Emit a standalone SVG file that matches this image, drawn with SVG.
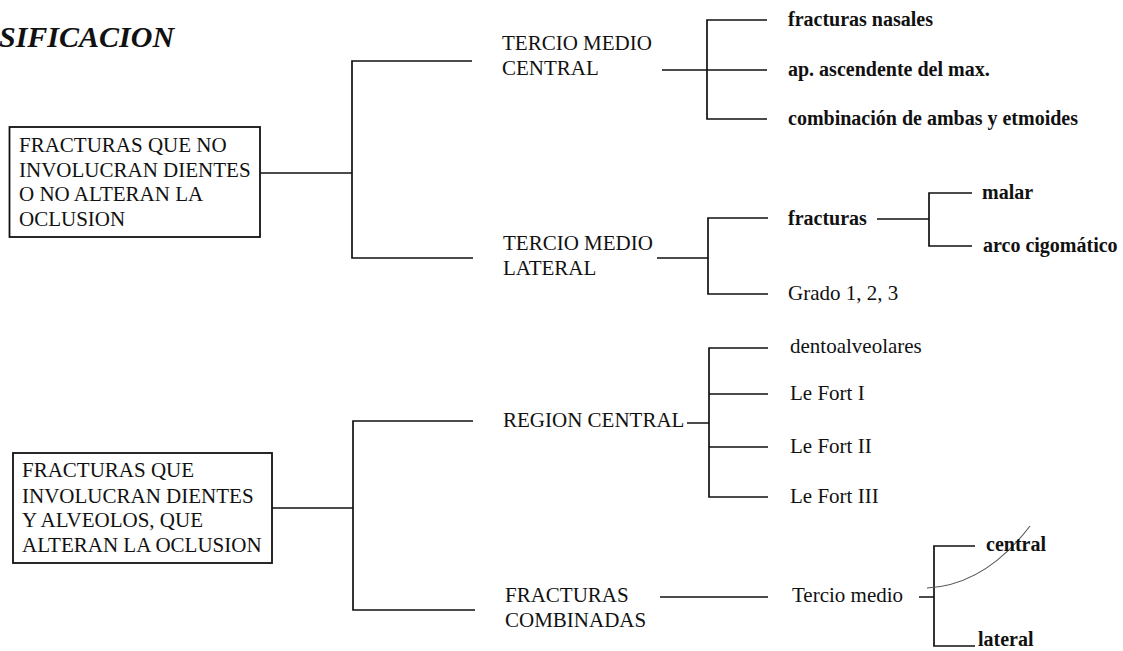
<svg xmlns="http://www.w3.org/2000/svg" width="1123" height="651" viewBox="0 0 1123 651">
<style>
text{font-family:"Liberation Serif","Times New Roman",serif;fill:#111;font-size:21px}
.b{font-weight:bold;font-size:20px}
.title{font-weight:bold;font-style:italic;font-size:30px}
.box{fill:#fff;stroke:#111;stroke-width:1.8}
.ln{fill:none;stroke:#111;stroke-width:1.7}
.thin{fill:none;stroke:#555;stroke-width:1.1}
</style>
<rect width="1123" height="651" fill="#fff"/>
<g id="title"><text class="title" x="-1" y="47">SIFICACION</text></g>
<g id="connectors">
<path class="ln" d="M260,173 H352 M472,61 H352 V258 H473"/>
<path class="ln" d="M662,70 H767 M767,20 H707 V119 H767"/>
<path class="ln" d="M657,258 H708 M768,218 H708 V294 H768"/>
<path class="ln" d="M877,219 H929 M972,193 H929 V246 H972"/>
<path class="ln" d="M272,508 H353 M473,421 H353 V610 H475"/>
<path class="ln" d="M687,423 H709 M768,348 H709 V497 H768 M709,394 H768 M709,447 H768"/>
<path class="ln" d="M660,597 H768"/>
<path class="ln" d="M919,597 H934 M975,546 H934 V646 H975"/>
<path class="thin" d="M927,588 Q985,585 1030,526"/>
</g>
<g id="box1">
<rect class="box" x="9.5" y="127" width="250.5" height="110"/>
<text x="19" y="152">FRACTURAS QUE NO</text>
<text x="19" y="176.5">INVOLUCRAN DIENTES</text>
<text x="19" y="201">O NO ALTERAN LA</text>
<text x="19" y="225.5">OCLUSION</text>
</g>
<g id="box2">
<rect class="box" x="13" y="453" width="259" height="110"/>
<text x="22" y="477">FRACTURAS QUE</text>
<text x="22" y="502.5">INVOLUCRAN DIENTES</text>
<text x="22" y="527">Y ALVEOLOS, QUE</text>
<text x="22" y="552">ALTERAN LA OCLUSION</text>
</g>
<g id="tercio-medio-central">
<text x="502" y="50">TERCIO MEDIO</text>
<text x="502" y="75">CENTRAL</text>
</g>
<g id="tercio-medio-lateral">
<text x="503" y="250">TERCIO MEDIO</text>
<text x="503" y="275">LATERAL</text>
</g>
<g id="fracturas-nasales"><text class="b" x="788" y="26">fracturas nasales</text></g>
<g id="ap-ascendente"><text class="b" x="788" y="76">ap. ascendente del max.</text></g>
<g id="combinacion"><text class="b" x="788" y="125">combinación de ambas y etmoides</text></g>
<g id="fracturas"><text class="b" x="788" y="225">fracturas</text></g>
<g id="malar"><text class="b" x="982" y="199">malar</text></g>
<g id="arco-cigomatico"><text class="b" x="983" y="252">arco cigomático</text></g>
<g id="grado"><text x="788" y="300">Grado 1, 2, 3</text></g>
<g id="region-central"><text x="503" y="427">REGION CENTRAL</text></g>
<g id="dentoalveolares"><text x="790" y="353">dentoalveolares</text></g>
<g id="le-fort-1"><text x="790" y="400">Le Fort I</text></g>
<g id="le-fort-2"><text x="790" y="453">Le Fort II</text></g>
<g id="le-fort-3"><text x="790" y="503">Le Fort III</text></g>
<g id="fracturas-combinadas">
<text x="505" y="602">FRACTURAS</text>
<text x="505" y="627">COMBINADAS</text>
</g>
<g id="tercio-medio"><text x="792" y="602">Tercio medio</text></g>
<g id="central"><text class="b" x="986" y="551">central</text></g>
<g id="lateral"><text class="b" x="978" y="646">lateral</text></g>
</svg>
